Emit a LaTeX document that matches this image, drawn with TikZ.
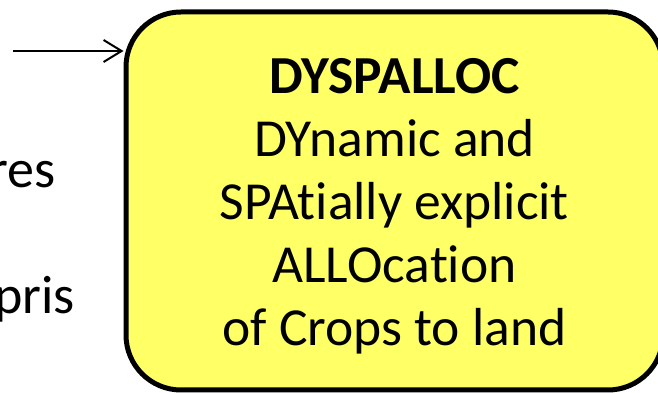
\documentclass[tikz,border=0pt]{standalone}
\usepackage{fontspec}
\setmainfont{Carlito}[Ligatures=NoCommon]
\usepackage{xcolor}
\usetikzlibrary{positioning, arrows.meta}
\definecolor{BoxYellow}{RGB}{255,255,102}

\begin{document}
\begin{tikzpicture}[x=1pt, y=1pt,
      model/.style={rectangle, rounded corners=55pt, draw=black, line width=5pt,
                    fill=BoxYellow, minimum width=537pt, minimum height=378pt,
                    inner sep=0pt, align=center,
                    font=\fontsize{53.5}{63}\selectfont},
      cut/.style={inner sep=0pt, anchor=base east, font=\fontsize{54}{60}\selectfont},
      link/.style={line width=2pt, -{Straight Barb[length=18pt, width=22pt]}}
    ]
    \useasboundingbox (0,0) rectangle (658,393);

    % Main model box
    \node[model] (dyspalloc) at (394.5,192)
      {\rule{0pt}{46pt}\textbf{DYSPALLOC}\\DYnamic and\\SPAtially explicit\\ALLOcation\\of Crops to land};

    % Left labels, cut by the frame
    \node[cut] (res)  at (56,205) {res};
    \node[cut] (pris) at (75,79)  {pris};

    % Incoming arrow
    \coordinate (in) at (13,342);
    \draw[link] (in) -- (dyspalloc.west |- in);
\end{tikzpicture}
\end{document}
